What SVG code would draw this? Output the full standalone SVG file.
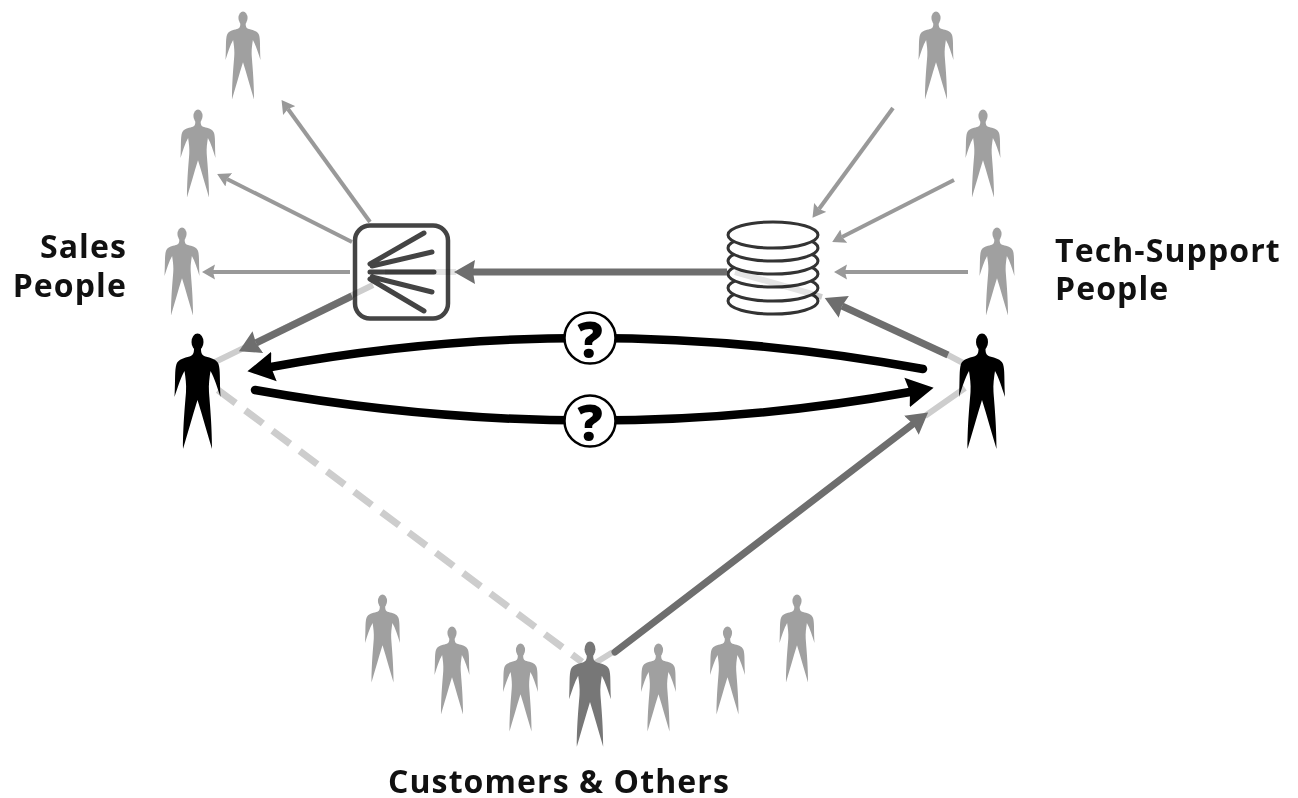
<svg xmlns="http://www.w3.org/2000/svg" width="1298" height="798" viewBox="0 0 1298 798">
<style>
text{font-family:"Open Sans","Noto Sans",sans-serif;font-weight:700;fill:#111;font-size:32px;letter-spacing:1.1px}
.pale{stroke:#cdcdcd;fill:none;stroke-width:6;mix-blend-mode:multiply}
.faint{stroke:#e4e4e4;fill:none;stroke-width:6;mix-blend-mode:multiply}
.dash{stroke:#cdcdcd;fill:none;stroke-width:7;stroke-dasharray:22 12}
.l{stroke:#999;stroke-width:4;fill:none;marker-end:url(#al)}
.m{stroke:#6e6e6e;stroke-width:7;fill:none;marker-end:url(#am)}
.b{stroke:#000;stroke-width:8.500;fill:none;stroke-linecap:round;marker-end:url(#ab)}
.g{fill:#a0a0a0}
.fan{stroke:#444;stroke-width:5;stroke-linecap:round;fill:none}
.db{fill:#fff;stroke:#333;stroke-width:3}
.q{fill:#fff;stroke:#000;stroke-width:2.500}
.qt{font-family:"Open Sans",sans-serif;font-weight:800;font-size:50px;fill:#000;text-anchor:middle;letter-spacing:0}
</style>
<defs>
<marker id="al" markerUnits="userSpaceOnUse" markerWidth="15" markerHeight="16" refX="2" refY="8" orient="auto"><path d="M0 0.500L13 8L0 15.500L2 8Z" fill="#999"/></marker>
<marker id="am" markerUnits="userSpaceOnUse" markerWidth="23" markerHeight="26" refX="2" refY="13" orient="auto"><path d="M0 1L21 13L0 25L2 13Z" fill="#6e6e6e"/></marker>
<marker id="ab" markerUnits="userSpaceOnUse" markerWidth="30" markerHeight="32" refX="3" refY="16" orient="auto"><path d="M0 1L27 16L0 31L3 16Z" fill="#000"/></marker>
<g id="person"><ellipse cx="0" cy="8" rx="6" ry="8.500"/><path d="M-3.500 14C-3.500 19 -4 21 -8 22.500C-13 24 -19 25 -21 30C-23 36 -22 45 -23 63C-20 54 -17 44 -13 37C-12 44 -11 50 -11.500 58C-12 66 -14.500 90 -14.500 115C-10 100 -5 82 0 66C5 82 10 100 14.500 115C14.500 90 12 66 11.500 58C11 50 12 44 13 37C17 44 20 54 23 63C22 45 23 36 21 30C19 25 13 24 8 22.500C4 21 3.500 19 3.500 14Z"/></g>
</defs>
<rect width="1298" height="798" fill="#fff"/>
<g id="router"><rect x="355" y="225.500" width="93" height="93" rx="15" fill="none" stroke="#444" stroke-width="4.500"/><path class="fan" d="M370 264L424 233M372 266L432 252M370 272L434 272M372 277L432 292M370 279L424 311"/></g>
<g id="database">
<ellipse class="db" cx="773" cy="301" rx="45" ry="13"/><ellipse class="db" cx="773" cy="288" rx="45" ry="13"/><ellipse class="db" cx="773" cy="274" rx="45" ry="13"/><ellipse class="db" cx="773" cy="261" rx="45" ry="13"/><ellipse class="db" cx="773" cy="248" rx="45" ry="13"/><ellipse class="db" cx="773" cy="235" rx="45" ry="13"/>
</g>
<g id="connectors">
<path class="pale" d="M373 285L215 362M948 355L965 364M613 652L592 665M925 416L965 388M822 297L812 294"/>
<path class="faint" d="M812 294L735 272M456 272L385 272"/>
<path class="dash" d="M218 390L582 662"/>
<path class="l" d="M370 222L288 109"/><path class="l" d="M352 242L227 179"/><path class="l" d="M350 272L213 272"/>
<path class="l" d="M893 108L819 209"/><path class="l" d="M954 180L842 237"/><path class="l" d="M968 272L845 272"/>
<path class="m" d="M727 272L473 272"/><path class="m" d="M352 296L256 343"/><path class="m" d="M948 355L842 306"/><path class="m" stroke-linecap="round" d="M615 652L913 424"/>
<path class="b" d="M923 369Q590 308 271 367"/><path class="b" d="M255 390Q590 450 910 392"/>
</g>
<g id="sales-1" class="g" transform="translate(243 12) scale(.76)"><use href="#person"/></g>
<g id="sales-2" class="g" transform="translate(198 110) scale(.76)"><use href="#person"/></g>
<g id="sales-3" class="g" transform="translate(182 228) scale(.76)"><use href="#person"/></g>
<g id="support-1" class="g" transform="translate(936 12) scale(.76)"><use href="#person"/></g>
<g id="support-2" class="g" transform="translate(983 110) scale(.76)"><use href="#person"/></g>
<g id="support-3" class="g" transform="translate(997 228) scale(.76)"><use href="#person"/></g>
<g id="sales-main" transform="translate(197.500 334)"><use href="#person"/></g>
<g id="support-main" transform="translate(982 334)"><use href="#person"/></g>
<g id="customer-1" class="g" transform="translate(382.500 595) scale(.76)"><use href="#person"/></g>
<g id="customer-2" class="g" transform="translate(452 627) scale(.76)"><use href="#person"/></g>
<g id="customer-3" class="g" transform="translate(520.500 644) scale(.76)"><use href="#person"/></g>
<g id="customer-main" fill="#777" transform="translate(590 642) scale(.91)"><use href="#person"/></g>
<g id="customer-4" class="g" transform="translate(658.500 644) scale(.76)"><use href="#person"/></g>
<g id="customer-5" class="g" transform="translate(727.500 627) scale(.76)"><use href="#person"/></g>
<g id="customer-6" class="g" transform="translate(797 595) scale(.76)"><use href="#person"/></g>
<g id="q1"><circle class="q" cx="590" cy="338" r="25.500"/><text class="qt" x="590" y="358">?</text></g>
<g id="q2"><circle class="q" cx="590" cy="421" r="25.500"/><text class="qt" x="590" y="441">?</text></g>
<text x="127" y="258" text-anchor="end">Sales</text>
<text x="127" y="297" text-anchor="end">People</text>
<text x="1055" y="262">Tech-Support</text>
<text x="1055" y="300">People</text>
<text x="388" y="793">Customers &amp; Others</text>
</svg>
